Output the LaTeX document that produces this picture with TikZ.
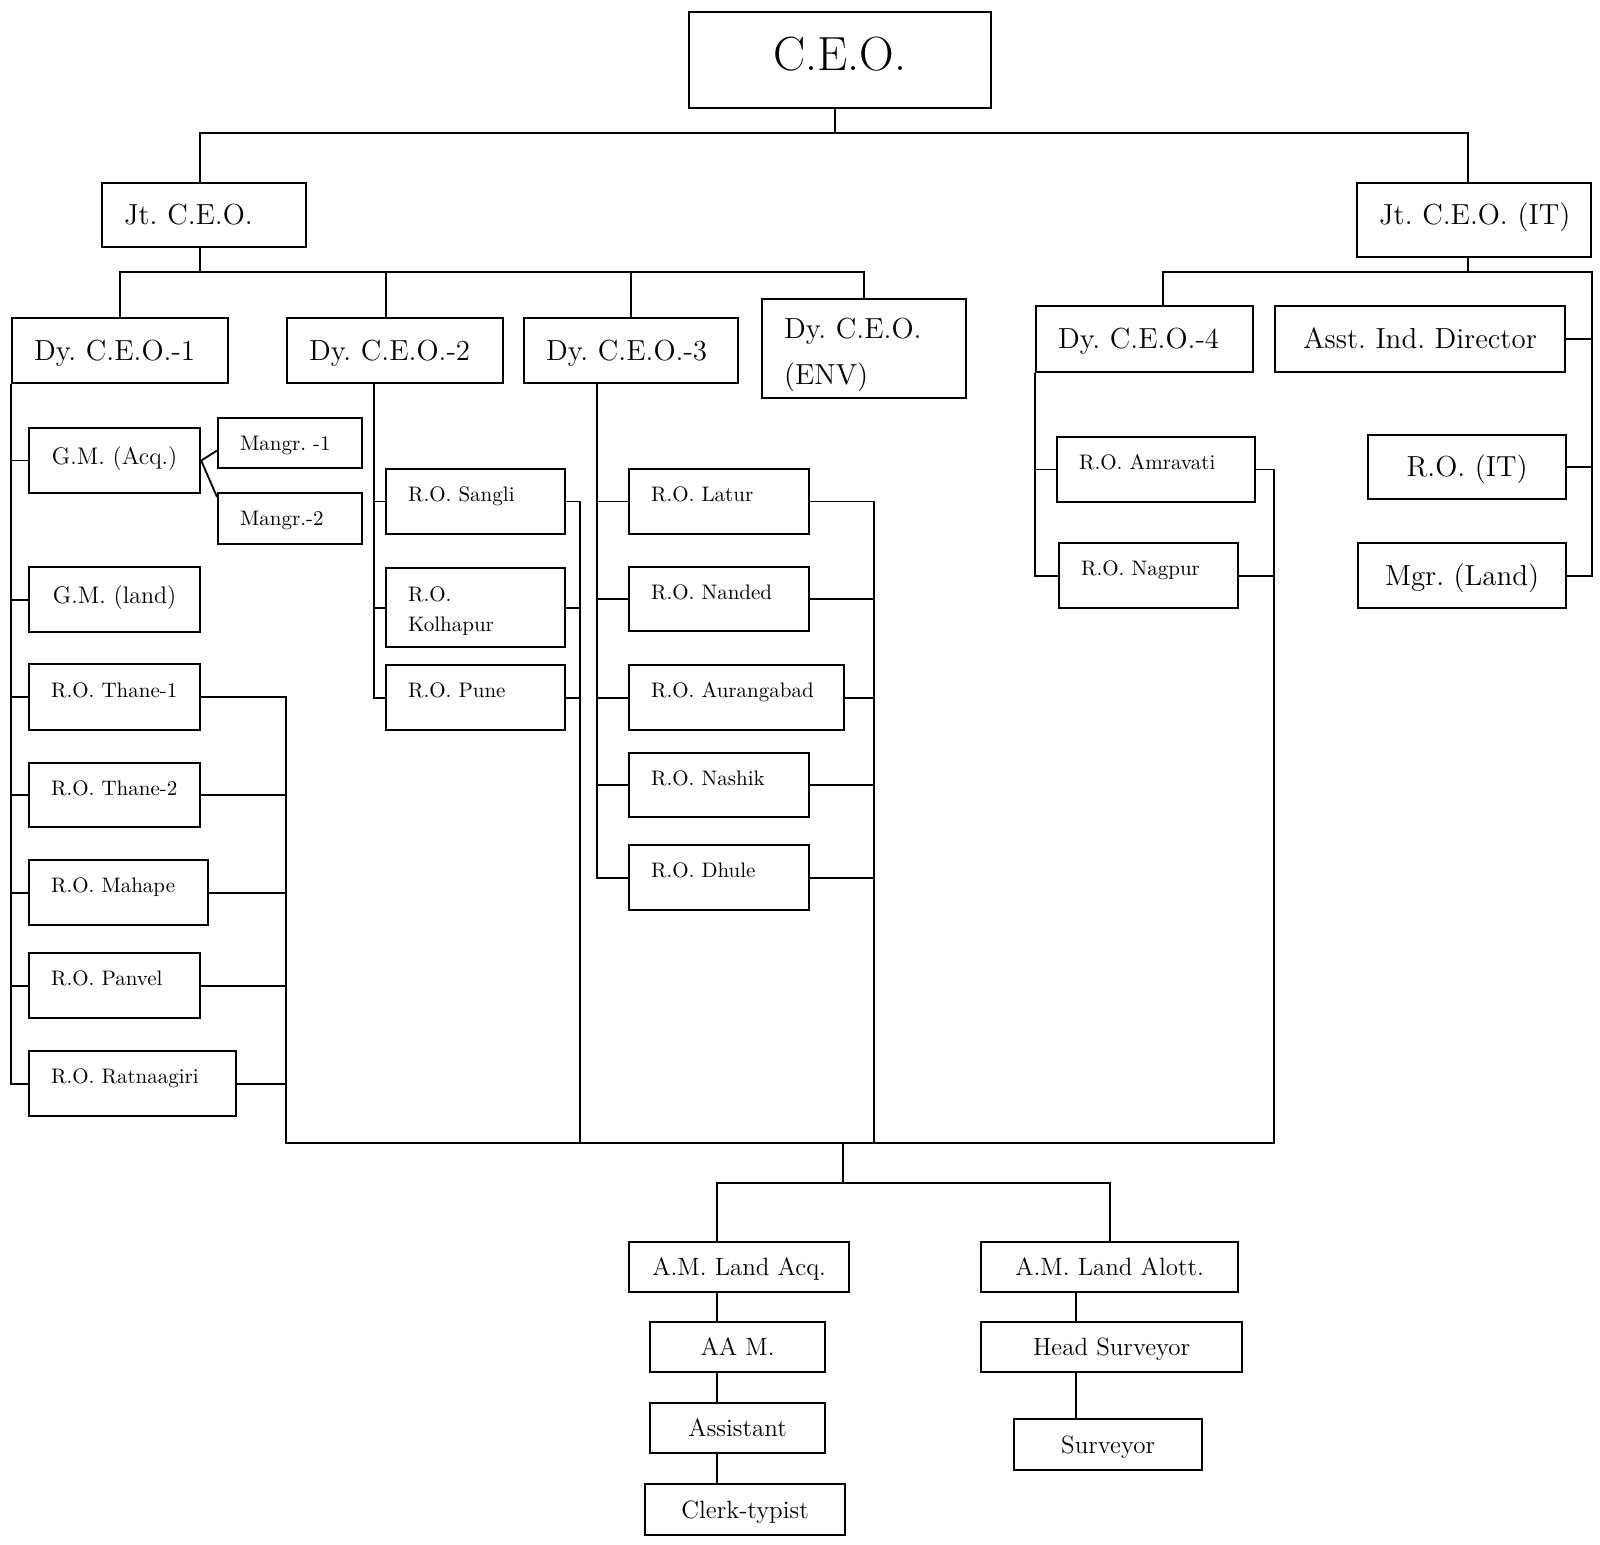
\documentclass[tikz,border=0pt]{standalone}
\usepackage{tikz}
\frenchspacing
\tikzset{
  box/.style={draw, line width=1.1pt, anchor=north west, inner sep=0pt},
  lbox/.style 2 args={box, text width=#1*0.5pt, minimum height=#2*0.5pt,
    align=left, execute at begin node={\leftskip=11pt}},
  cbox/.style 2 args={box, minimum width=#1*0.5pt, minimum height=#2*0.5pt},
  fceo/.style={font=\fontsize{24}{29}\selectfont, text height=16pt, text depth=6pt},
  fdy/.style={font=\fontsize{14.5}{23}\selectfont, text height=9.9pt, text depth=0pt},
  fgm/.style={font=\fontsize{12}{15}\selectfont, text height=8pt, text depth=4.5pt},
  fro/.style={font=\fontsize{10.5}{15}\selectfont, text height=5pt, text depth=5pt},
  fam/.style={font=\fontsize{12.5}{15}\selectfont, text height=8.5pt, text depth=0pt}
}
\begin{document}
\begin{tikzpicture}[x=0.5pt,y=-0.5pt,line width=0.9pt]
  \useasboundingbox (0,0) rectangle (1600,1545);

  \node[cbox={302}{96},fceo] (ceo) at (688,11) {C.E.O.};
  \node[lbox={204}{64},fdy] (jt) at (101,182) {Jt. C.E.O.};
  \node[lbox={234}{74},fdy,text depth=5pt] (jtit) at (1356,182) {Jt. C.E.O. (IT)};
  \node[lbox={216}{65},fdy] (dy1) at (11,317) {Dy. C.E.O.-1};
  \node[lbox={216}{65},fdy] (dy2) at (286,317) {Dy. C.E.O.-2};
  \node[lbox={214}{65},fdy] (dy3) at (523,317) {Dy. C.E.O.-3};
  \node[lbox={204}{99},fdy,text height=10pt,text depth=20pt] (env) at (761,298) {Dy. C.E.O.\\(ENV)};
  \node[lbox={217}{66},fdy] (dy4) at (1035,305) {Dy. C.E.O.-4};
  \node[cbox={290}{66},fdy] (asst) at (1274,305) {Asst. Ind. Director};
  \node[cbox={198}{64},fdy] (roit) at (1367,434) {R.O. (IT)};
  \node[cbox={208}{65},fdy] (mgr) at (1357,542) {Mgr. (Land)};

  \node[cbox={171}{65},fgm] (gmacq) at (28,427) {G.M. (Acq.)};
  \node[lbox={144}{50},fro,text height=7.2pt,text depth=0pt] (m1) at (217,417) {Mangr. -1};
  \node[lbox={144}{51},fro,text height=7.2pt,text depth=0pt] (m2) at (217,492) {Mangr.-2};
  \node[cbox={171}{65},fgm] (gmland) at (28,566) {G.M. (land)};
  \node[lbox={171}{66},fro] (th1) at (28,663) {R.O. Thane-1};
  \node[lbox={171}{64},fro] (th2) at (28,762) {R.O. Thane-2};
  \node[lbox={179}{65},fro] (mah) at (28,859) {R.O. Mahape};
  \node[lbox={171}{65},fro] (pan) at (28,952) {R.O. Panvel};
  \node[lbox={207}{65},fro] (rat) at (28,1050) {R.O. Ratnaagiri};

  \node[lbox={179}{65},fro] (sangli) at (385,468) {R.O. Sangli};
  \node[lbox={179}{79},fro,text height=7.3pt,text depth=13.3pt] (kol) at (385,567) {R.O.\\Kolhapur};
  \node[lbox={179}{65},fro] (pune) at (385,664) {R.O. Pune};

  \node[lbox={180}{65},fro] (latur) at (628,468) {R.O. Latur};
  \node[lbox={180}{64},fro] (nanded) at (628,566) {R.O. Nanded};
  \node[lbox={215}{65},fro] (aur) at (628,664) {R.O. Aurangabad};
  \node[lbox={180}{64},fro] (nashik) at (628,752) {R.O. Nashik};
  \node[lbox={180}{65},fro] (dhule) at (628,844) {R.O. Dhule};

  \node[lbox={198}{65},fro] (amr) at (1056,436) {R.O. Amravati};
  \node[lbox={179}{65},fro] (nag) at (1058,542) {R.O. Nagpur};

  \node[cbox={220}{50},fam] (amacq) at (628,1241) {A.M. Land Acq.};
  \node[cbox={175}{50},fam] (aam) at (649,1321) {AA M.};
  \node[cbox={175}{50},fam] (asst2) at (649,1402) {Assistant};
  \node[cbox={200}{51},fam] (clerk) at (644,1483) {Clerk-typist};
  \node[cbox={257}{50},fam] (amal) at (980,1241) {A.M. Land Alott.};
  \node[cbox={261}{50},fam] (head) at (980,1321) {Head Surveyor};
  \node[cbox={188}{51},fam] (surv) at (1013,1418) {Surveyor};

  \coordinate (b1) at (0,133);
  \coordinate (b2) at (0,272);
  \draw ([xshift=-2.5pt]ceo.south) -- ([xshift=-2.5pt]ceo.south |- b1);
  \draw ([xshift=-2pt]jt.north) |- ([xshift=-3pt]jtit.north |- b1) -- ([xshift=-3pt]jtit.north);
  \draw ([xshift=-2pt]jt.south) -- ([xshift=-2pt]jt.south |- b2);
  \draw (dy1.north) |- (env.north |- b2) -- (env.north);
  \draw ([xshift=-4.4pt]dy2.north) -- ([xshift=-4.4pt]dy2.north |- b2);
  \draw (dy3.north) -- (dy3.north |- b2);
  \draw ([xshift=-3pt]jtit.south) -- ([xshift=-3pt]jtit.south |- b2);
  \draw ([xshift=9pt]dy4.north) |- (jtit.east |- b2) -- (jtit.east |- mgr.east) -- (mgr.east);
  \draw (asst.east) -- (asst.east -| jtit.east);
  \draw (roit.east) -- (roit.east -| jtit.east);

  \draw (dy1.south west) |- (rat.west);
  \foreach \n in {gmacq,gmland,th1,th2,mah,pan}
    \draw (\n.west) -- (\n.west -| dy1.south west);
  \draw (gmacq.east) -- ([yshift=-3.7pt]m1.west);
  \draw (gmacq.east) -- ([yshift=-2.5pt]m2.north west);

  \draw ([xshift=-10.7pt]dy2.south) coordinate (d2) |- (pune.west);
  \foreach \n in {sangli,kol}
    \draw (\n.west) -- (\n.west -| d2);
  \draw ([xshift=-17.2pt]dy3.south) coordinate (d3) |- (dhule.west);
  \foreach \n in {latur,nanded,aur,nashik}
    \draw (\n.west) -- (\n.west -| d3);
  \draw (dy4.south west) |- (nag.west);
  \draw (amr.west) -- (amr.west -| dy4.south west);

  \coordinate (busl) at (286,1143);
  \coordinate (busr) at (1274,1143);
  \coordinate (bus2) at (580,1143);
  \coordinate (bus3) at (874,1143);
  \coordinate (mid) at (843,1143);
  \coordinate (lq) at (717,1183);
  \coordinate (la) at (1076,1291);
  \draw (th1.east) -| (busl) -- (busr) |- (amr.east);
  \foreach \n in {th2,mah,pan,rat}
    \draw (\n.east) -- (\n.east -| busl);
  \draw (sangli.east) -| (bus2);
  \foreach \n in {kol,pune}
    \draw (\n.east) -- (\n.east -| bus2);
  \draw (latur.east) -| (bus3);
  \foreach \n in {nanded,aur,nashik,dhule}
    \draw (\n.east) -- (\n.east -| bus3);
  \draw (nag.east) -- (nag.east -| busr);

  \draw (mid) -- (mid |- lq);
  \draw (lq |- amacq.north) -- (lq) -- (amal.north |- lq) -- (amal.north);
  \foreach \a/\b in {amacq/aam,aam/asst2,asst2/clerk}
    \draw (lq |- \a.south) -- (lq |- \b.north);
  \foreach \a/\b in {amal/head,head/surv}
    \draw (la |- \a.south) -- (la |- \b.north);
\end{tikzpicture}
\end{document}
